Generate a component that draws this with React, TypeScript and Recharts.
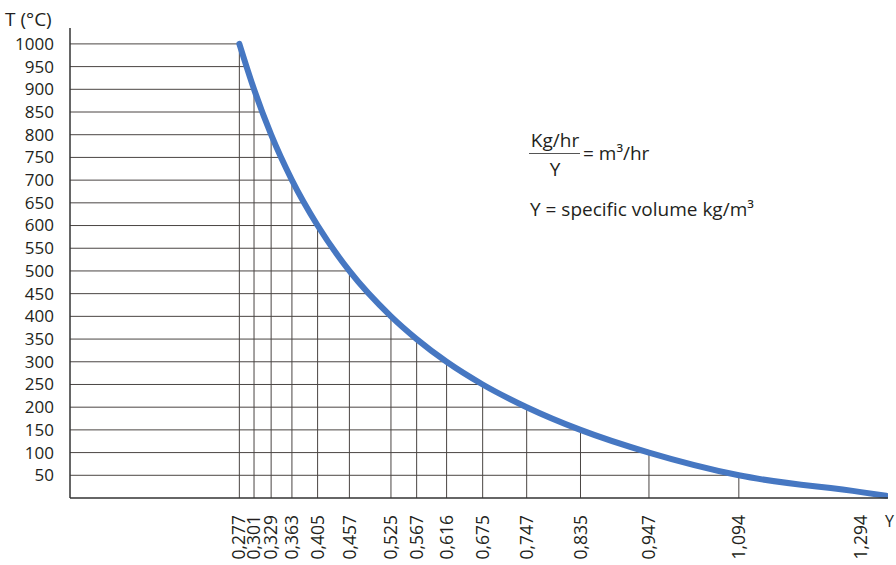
import { LineChart, Line, XAxis, YAxis, ReferenceLine, Label } from "recharts"

// temperature (°C) and matching Y values
const temps = [1000, 900, 800, 700, 600, 500, 400, 350, 300, 250, 200, 150, 100, 50]
const density = [0.277, 0.301, 0.329, 0.363, 0.405, 0.457, 0.525, 0.567, 0.616, 0.675, 0.747, 0.835, 0.947, 1.094]
// the drawn curve runs on a little past the last tick
const tailDensity = [1.294, 1.335]
const tailTemps = [13, 5]

const xTicks = [0.277, 0.301, 0.329, 0.363, 0.405, 0.457, 0.525, 0.567, 0.616, 0.675, 0.747, 0.835, 0.947, 1.094, 1.294]
const yTicks = [50, 100, 150, 200, 250, 300, 350, 400, 450, 500, 550, 600, 650, 700, 750, 800, 850, 900, 950, 1000]

const FONT = "'Open Sans', 'Noto Sans', sans-serif"
const INK = "#231f20"
const GRID = "#4a4543"
const BLUE = "#4677c2"

const data = [
  ...temps.map((t, i) => ({ v: density[i], t })),
  ...tailTemps.map((t, i) => ({ v: tailDensity[i], t })),
]

// where the curve crosses a given temperature (linear between table points)
function curveAt(t: number) {
  for (let i = 0; i < temps.length - 1; i++) {
    if (t <= temps[i] && t >= temps[i + 1]) {
      const f = (temps[i] - t) / (temps[i] - temps[i + 1])
      return density[i] + f * (density[i + 1] - density[i])
    }
  }
  return density[0]
}

const fmt = (v: number) => v.toFixed(3).replace(".", ",")

function XTick(props: any) {
  const { x, y, payload } = props
  return (
    <text
      x={x}
      y={y}
      dy="0.35em"
      textAnchor="end"
      transform={`rotate(-90, ${x}, ${y})`}
      fontFamily={FONT}
      fontSize={17.5}
      fill={INK}
    >
      {fmt(payload.value)}
    </text>
  )
}

function YTick(props: any) {
  const { x, y, payload } = props
  return (
    <text x={x} y={y} dy="0.35em" textAnchor="end" fontFamily={FONT} fontSize={17} fill={INK}>
      {payload.value}
    </text>
  )
}

export default function App() {
  return (
    <div style={{ position: "absolute", left: 0, top: 0, width: 896, height: 565, background: "#fff" }}>
      <LineChart width={896} height={565} data={data} margin={{ top: 28, right: 8, bottom: 7, left: 10 }}>
        <XAxis
          type="number"
          dataKey="v"
          domain={[0, 1.338]}
          ticks={xTicks}
          interval={0}
          tickSize={0}
          tickMargin={17}
          height={60}
          stroke="#333"
          strokeWidth={1.5}
          tick={(p: any) => <XTick {...p} />}
          allowDataOverflow
        >
          <Label
            content={(p: any) => (
              <text
                x={p.viewBox.x + p.viewBox.width - 3}
                y={p.viewBox.y + 29}
                fontFamily={FONT}
                fontSize={16}
                fill={INK}
              >
                Y
              </text>
            )}
          />
        </XAxis>
        <YAxis
          type="number"
          dataKey="t"
          domain={[0, 1035]}
          ticks={yTicks}
          interval={0}
          tickSize={0}
          tickMargin={16}
          width={60}
          stroke="#333"
          strokeWidth={1.5}
          tick={(p: any) => <YTick {...p} />}
        >
          <Label
            content={(p: any) => (
              <text x={p.viewBox.x - 5} y={p.viewBox.y - 2} fontFamily={FONT} fontSize={19} fill={INK}>
                T (°C)
              </text>
            )}
          />
        </YAxis>
        {yTicks.map((t) => (
          <ReferenceLine
            key={"h" + t}
            segment={[
              { x: 0, y: t },
              { x: curveAt(t), y: t },
            ]}
            stroke={GRID}
            strokeWidth={1}
          />
        ))}
        {density.map((v, i) => (
          <ReferenceLine
            key={"v" + v}
            segment={[
              { x: v, y: 0 },
              { x: v, y: temps[i] },
            ]}
            stroke={GRID}
            strokeWidth={1}
          />
        ))}
        <Line
          type="monotone"
          dataKey="t"
          stroke={BLUE}
          strokeWidth={6}
          dot={false}
          strokeLinecap="round"
          isAnimationActive={false}
        />
      </LineChart>
      <svg
        width={896}
        height={565}
        style={{ position: "absolute", left: 0, top: 0, pointerEvents: "none" }}
        fontFamily={FONT}
        fill={INK}
      >
        <text x={555} y={147} fontSize={19} textAnchor="middle">
          Kg/hr
        </text>
        <line x1={529} x2={580} y1={153.5} y2={153.5} stroke="#555" strokeWidth={1} />
        <text x={555} y={176} fontSize={19} textAnchor="middle">
          Y
        </text>
        <text x={583} y={160} fontSize={19}>
          = m³/hr
        </text>
        <text x={530} y={216} fontSize={19}>
          Y = specific volume kg/m³
        </text>
      </svg>
    </div>
  )
}
